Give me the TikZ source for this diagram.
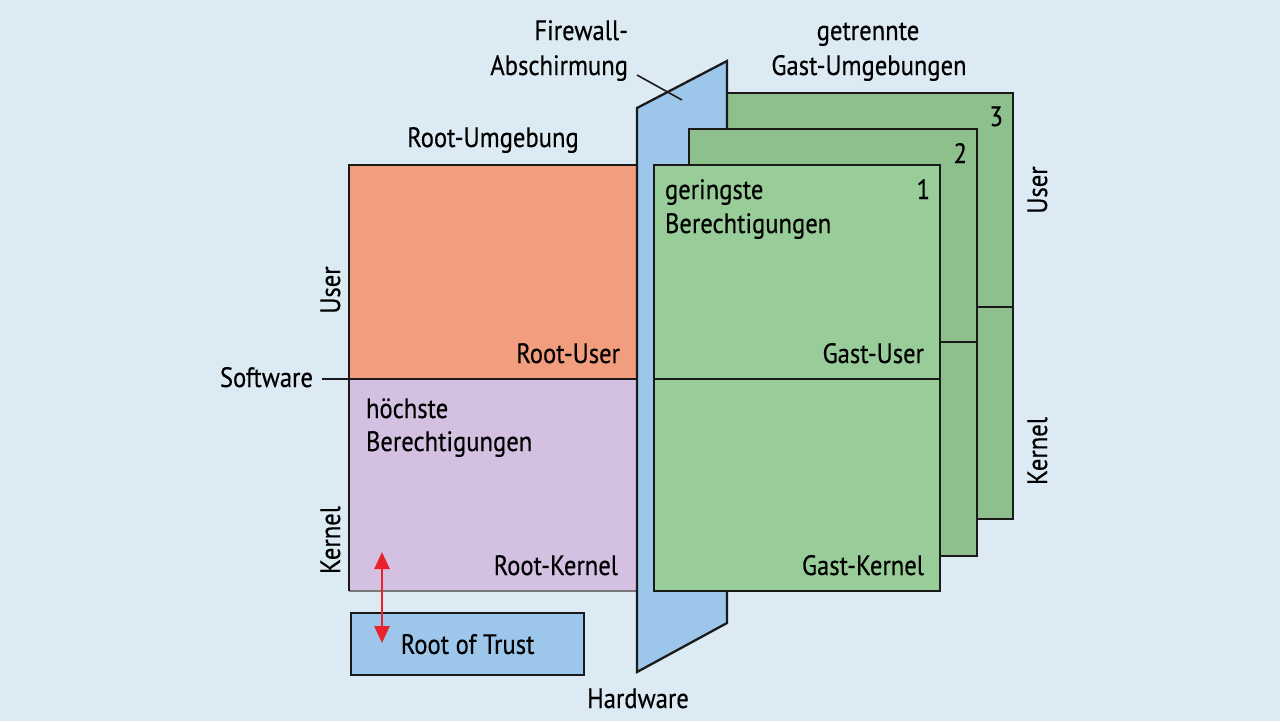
\documentclass[tikz,border=0pt]{standalone}
\usepackage{fontspec}
\setmainfont[FakeStretch=0.88,FakeBold=0.35]{PT Sans}
\usetikzlibrary{arrows.meta}
\definecolor{bgc}{HTML}{DCEAF4}
\definecolor{rootuser}{HTML}{F19D7E}
\definecolor{rootkernel}{HTML}{D4C1E1}
\definecolor{fwblue}{HTML}{9CC7EB}
\definecolor{gone}{HTML}{98CC98}
\definecolor{gtwo}{HTML}{8DC08D}
\definecolor{edgec}{HTML}{1A1A1A}
\definecolor{arrred}{HTML}{E8212A}
\begin{document}
\begin{tikzpicture}[x=1pt,y=-1pt,
  font=\fontsize{28}{33}\selectfont,
  edge/.style={draw=edgec, line width=2.3pt},
  thinedge/.style={draw=edgec!60, line width=1.4pt},
  lbl/.style={inner sep=0pt, outer sep=0pt, text=black},
  vlbl/.style={lbl, rotate=90, anchor=base},
  redarrow/.style={draw=arrred, line width=2.6pt, {Triangle[width=15pt,length=17pt]}-{Triangle[width=15pt,length=17pt]}, arrred},
]
\fill[bgc] (0,0) rectangle (1280,721);
\useasboundingbox (0,0) rectangle (1280,721);

% root environment
\fill[rootuser] (349,165) rectangle (637,379);
\fill[rootkernel] (349,379) rectangle (637,591);
\draw[thinedge] (349,591) -- (637,591);
\draw[edge] (637,165) -- (349,165) -- (349,591);
\coordinate (swstart) at (322,379);
\coordinate (swend) at (637,379);
\draw[edge] (swstart) -- (swend);

% guest 3
\fill[gtwo] (727,93) rectangle (1013,519);
\draw[edge] (727,93) -- (1013,93) -- (1013,519) -- (727,519);
\draw[edge] (727,307) -- (1013,307);

% firewall
\path[fill=fwblue, edge, line join=miter] (637,108) -- (727,61) -- (727,623) -- (637,672) -- cycle;

% guest 2
\path[fill=gtwo, edge] (689,129) rectangle (977,556);
\draw[edge] (689,342) -- (977,342);

% guest 1
\path[fill=gone, edge] (654,165) rectangle (940,591);
\draw[edge] (654,379) -- (940,379);

% root of trust
\node[fill=fwblue, edge, minimum width=233pt, minimum height=62pt, inner sep=0pt, anchor=north west] (rot) at (350,612) {};
\node[lbl] (rottext) at (rot.center) {\raisebox{-0.5pt}{Root of Trust}};

% red arrow
\coordinate (arrtop) at (382,552);
\coordinate (arrbot) at (382,643);
\draw[redarrow] (arrtop) -- (arrbot);

% firewall leader
\coordinate (fwlA) at (637,75);
\coordinate (fwlB) at (682,100);
\draw[edgec, line width=1.6pt] (fwlA) -- (fwlB);

% labels
\node[lbl, anchor=base] (rootenv) at (493,147) {Root-Umgebung};
\node[lbl, anchor=base east] (rootuserl) at (620,363) {Root-User};
\node[lbl, anchor=base east] (software) at (313,387) {Software};
\node[lbl, anchor=base west] (hoechste) at (366,418) {höchste};
\node[lbl, anchor=base west] (berech1) at (366,451) {Berechtigungen};
\node[lbl, anchor=base east] (rootkernell) at (618,575) {Root-Kernel};
\node[vlbl] (userl) at (340,290) {User};
\node[vlbl] (kernell) at (340,540) {Kernel};
\node[vlbl] (userr) at (1047,190) {User};
\node[vlbl] (kernelr) at (1047,451) {Kernel};
\node[lbl, anchor=base] (hardware) at (638,708) {Hardware};
\node[lbl, anchor=base east] (fw1) at (628,40) {Firewall-};
\node[lbl, anchor=base east] (fw2) at (628,75) {Abschirmung};
\node[lbl, anchor=base] (gt1) at (868,40) {getrennte};
\node[lbl, anchor=base] (gt2) at (869,75) {Gast-Umgebungen};
\node[lbl, anchor=base west] (gering) at (665,199) {geringste};
\node[lbl, anchor=base west] (berech2) at (665,233) {Berechtigungen};
\node[lbl, anchor=base east] (n1) at (930,199) {1};
\node[lbl, anchor=base east] (n2) at (967,163) {2};
\node[lbl, anchor=base east] (n3) at (1003,126) {3};
\node[lbl, anchor=base east] (gastuser) at (924,363) {Gast-User};
\node[lbl, anchor=base east] (gastkernel) at (924,575) {Gast-Kernel};
\end{tikzpicture}
\end{document}
